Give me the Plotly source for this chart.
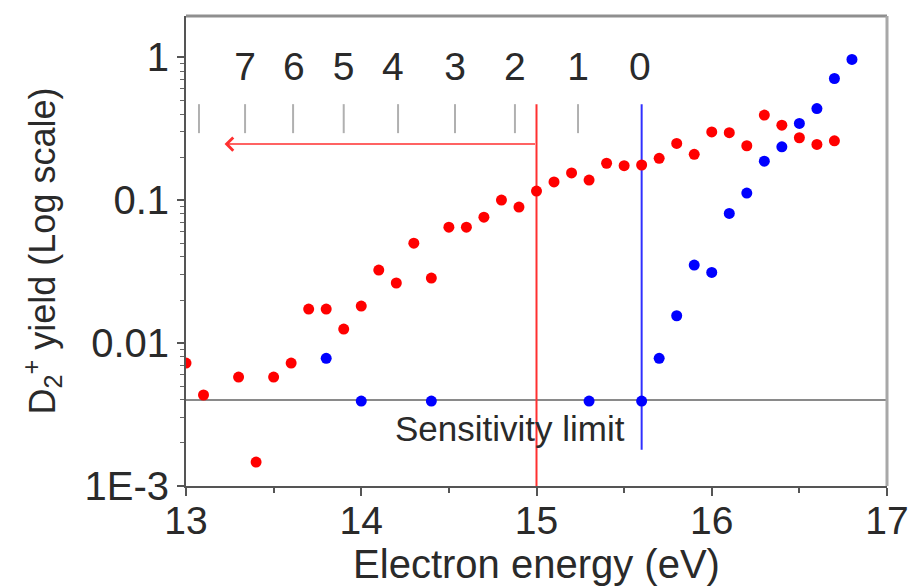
import math
import plotly.graph_objects as go

# ---------------- data ----------------
red_energy = [13.0, 13.1, 13.3, 13.4, 13.5, 13.6, 13.7, 13.8, 13.9, 14.0,
              14.1, 14.2, 14.3, 14.4, 14.5, 14.6, 14.7, 14.8, 14.9, 15.0,
              15.1, 15.2, 15.3, 15.4, 15.5, 15.6, 15.7, 15.8, 15.9, 16.0,
              16.1, 16.2, 16.3, 16.4, 16.5, 16.6, 16.7]
red_yield = [0.00724, 0.00433, 0.00578, 0.00147, 0.00578, 0.00724, 0.0173, 0.0173, 0.01253, 0.01815,
             0.0324, 0.0263, 0.050, 0.0285, 0.0647, 0.0647, 0.0760, 0.100, 0.0894, 0.1156,
             0.134, 0.155, 0.138, 0.181, 0.174, 0.176, 0.196, 0.249, 0.209, 0.300,
             0.296, 0.240, 0.393, 0.334, 0.273, 0.245, 0.260]

blue_energy = [13.8, 14.0, 14.4, 15.3, 15.6, 15.7, 15.8, 15.9, 16.0, 16.1,
               16.2, 16.3, 16.4, 16.5, 16.6, 16.7, 16.8]
blue_yield = [0.00782, 0.00393, 0.00393, 0.00393, 0.00393, 0.00782, 0.01552, 0.0351, 0.0312, 0.0807,
              0.112, 0.187, 0.236, 0.344, 0.437, 0.709, 0.963]

level_labels = ["0", "1", "2", "3", "4", "5", "6", "7"]
level_label_energy = [15.59, 15.237, 14.877, 14.535, 14.18, 13.90, 13.616, 13.337]
level_tick_energy = [15.237, 14.877, 14.535, 14.21, 13.90, 13.611, 13.337, 13.074]

sensitivity_limit = 0.004
red_threshold = 15.0
blue_threshold = 15.6
x_range = [13, 17]
y_range_log = [-3, 0.2878]
y_tick_vals = [0.001, 0.01, 0.1, 1]
y_tick_text = ["1E-3", "0.01", "0.1", "1"]

FONT = "Liberation Sans, Arial, sans-serif"
TXT = "#2a2a2a"

fig = go.Figure()

# level tick marks (gray)
tx, ty = [], []
for e in level_tick_energy:
    tx += [e, e, None]
    ty += [0.294, 0.469, None]
fig.add_trace(go.Scatter(x=tx, y=ty, mode="lines", line=dict(color="#b0b0b0", width=2),
                         hoverinfo="skip", showlegend=False))

# sensitivity limit
fig.add_trace(go.Scatter(x=x_range, y=[sensitivity_limit] * 2, mode="lines",
                         line=dict(color="#8a8a8a", width=2), hoverinfo="skip", showlegend=False))

# threshold lines
fig.add_trace(go.Scatter(x=[red_threshold] * 2, y=[0.001, 0.469], mode="lines",
                         line=dict(color="#ff3030", width=2), hoverinfo="skip", showlegend=False))
fig.add_trace(go.Scatter(x=[blue_threshold] * 2, y=[0.00179, 0.469], mode="lines",
                         line=dict(color="#3030ff", width=2), hoverinfo="skip", showlegend=False))

# data
fig.add_trace(go.Scatter(x=red_energy, y=red_yield, mode="markers",
                         marker=dict(color="#ff0000", size=11), showlegend=False))
fig.add_trace(go.Scatter(x=blue_energy, y=blue_yield, mode="markers",
                         marker=dict(color="#0000ff", size=11), showlegend=False))

# level labels
fig.add_trace(go.Scatter(x=level_label_energy, y=[0.81] * len(level_labels), mode="text",
                         text=level_labels, textfont=dict(family=FONT, size=39, color=TXT),
                         hoverinfo="skip", showlegend=False))

# arrow
arrow_y = math.log10(0.2466)
fig.add_annotation(x=13.22, y=arrow_y, ax=red_threshold, ay=arrow_y, xref="x", yref="y",
                   axref="x", ayref="y", showarrow=True, arrowhead=4, arrowsize=1.6,
                   arrowwidth=1.6, arrowcolor="#ff3030", text="")

fig.add_annotation(x=14.85, y=math.log10(0.00251), xref="x", yref="y", text="Sensitivity limit",
                   showarrow=False, font=dict(family=FONT, size=35, color=TXT))

# frame top / right
fig.add_shape(type="line", xref="paper", yref="paper", x0=0, x1=1, y0=1, y1=1,
              line=dict(color="#8f8f8f", width=3))
fig.add_shape(type="line", xref="paper", yref="paper", x0=1, x1=1, y0=0, y1=1,
              line=dict(color="#a8a8a8", width=3))

fig.update_layout(
    width=911, height=586,
    margin=dict(l=186, r=24, t=16, b=100),
    paper_bgcolor="white", plot_bgcolor="white",
    font=dict(family=FONT, color=TXT),
    showlegend=False,
)
fig.update_xaxes(
    range=x_range, showgrid=False, zeroline=False, automargin=False,
    showline=True, linecolor="#555", linewidth=2,
    ticks="outside", ticklen=8, tickwidth=2, tickcolor="#555", ticklabelstandoff=-9,
    tickvals=[13, 14, 15, 16, 17], tickfont=dict(size=39, family=FONT, color=TXT),
    minor=dict(tickvals=[13.5, 14.5, 15.5, 16.5], ticks="outside", ticklen=5, tickcolor="#555", tickwidth=2),
    title=dict(text="Electron energy (eV)", font=dict(size=40, family=FONT, color=TXT), standoff=0),
)
fig.update_yaxes(
    type="log", range=y_range_log, showgrid=False, zeroline=False, automargin=False,
    showline=True, linecolor="#555", linewidth=2,
    ticks="outside", ticklen=7, tickwidth=2, tickcolor="#555",
    tickvals=y_tick_vals, ticktext=y_tick_text, tickfont=dict(size=40, family=FONT, color=TXT),
    minor=dict(tickvals=[m * 10 ** d for d in (-3, -2, -1, 0) for m in range(2, 10) if m * 10 ** d < 1.9],
               ticks="outside", ticklen=4, tickcolor="#666", tickwidth=1),
    title=dict(text="D<sub>2</sub><sup>+</sup> yield (Log scale)", font=dict(size=36, family=FONT, color=TXT),
               standoff=18),
)

fig.write_html("out.html")
